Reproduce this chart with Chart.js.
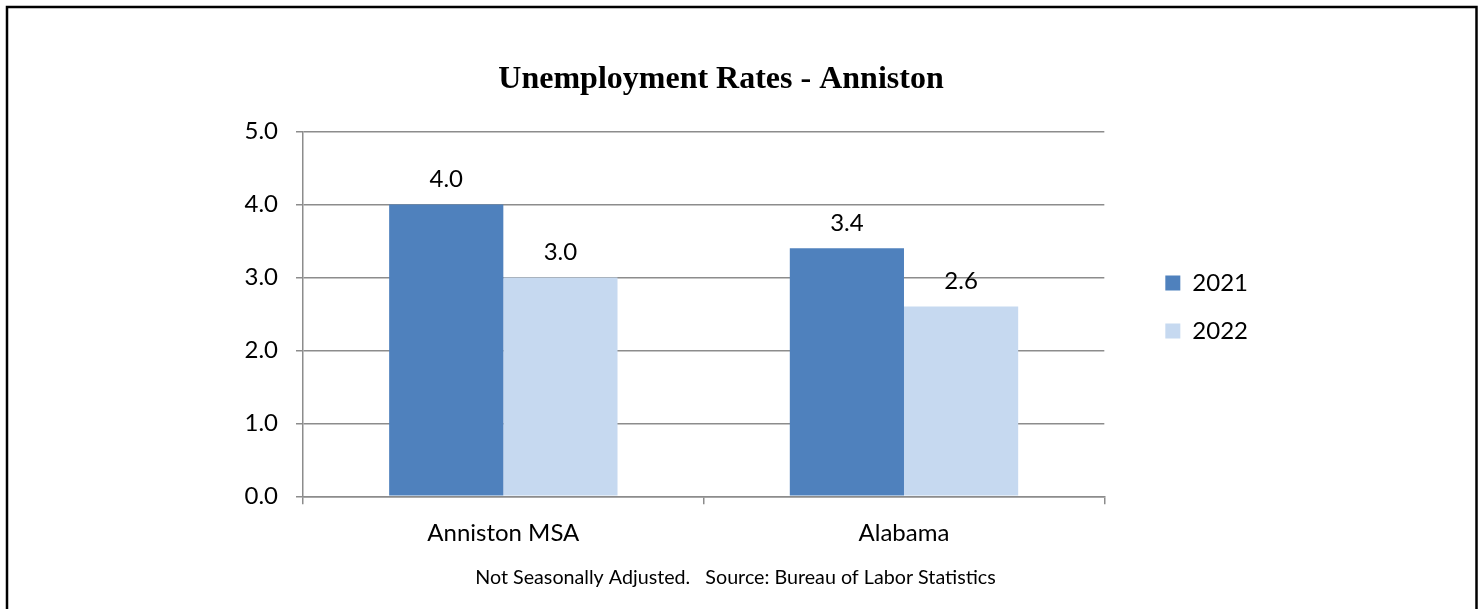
<!DOCTYPE html>
<html>
<head>
<meta charset="utf-8">
<script src="https://cdn.jsdelivr.net/npm/chart.js@4"></script>
<style>
  body { margin: 0; background: #fff; }
  canvas { display: block; }
</style>
</head>
<body>
<canvas id="myChart" width="1481" height="609"></canvas>
<script>
// datos
const areas = ['Anniston MSA', 'Alabama'];
const years = ['2021', '2022'];
const rates2021 = [4.0, 3.4];
const rates2022 = [3.0, 2.6];
const yTicks = [0, 1, 2, 3, 4, 5];
const footnote = 'Not Seasonally Adjusted.   Source: Bureau of Labor Statistics';

const gridGray = '#8c8c8c';
const axisFont = { family: 'Lato', size: 24 };

// marco negro alrededor (abierto por abajo)
const frame = {
    id: 'frame',
    beforeDraw(chart) {
        const c = chart.ctx;
        c.save();
        c.fillStyle = '#fff';
        c.fillRect(0, 0, chart.width, chart.height);
        c.strokeStyle = '#000';
        c.lineWidth = 2.5;
        c.beginPath();
        c.moveTo(7, chart.height + 5);
        c.lineTo(7, 7);
        c.lineTo(1476.5, 7);
        c.lineTo(1476.5, chart.height + 5);
        c.stroke();
        c.restore();
    }
};

// etiquetas de valor encima de cada barra
const valueLabels = {
    id: 'valueLabels',
    afterDatasetsDraw(chart) {
        const c = chart.ctx;
        c.save();
        c.font = '24px Lato';
        c.fillStyle = '#000';
        c.textAlign = 'center';
        c.textBaseline = 'middle';
        chart.data.datasets.forEach((ds, i) => {
            chart.getDatasetMeta(i).data.forEach((bar, j) => {
                c.fillText(ds.data[j].toFixed(1), bar.x, bar.y - 25);
            });
        });
        c.restore();
    }
};

// pequeño ajuste de posición de leyenda, título y nota al pie
const nudge = {
    id: 'nudge',
    afterLayout(chart) {
        const lg = chart.legend;
        lg.left += 37; lg.right += 37;
        lg.top -= 1.5; lg.bottom -= 1.5;
        const t = chart.titleBlock;
        t.left += 0.5; t.right += 0.5;
        chart.boxes.forEach(b => {
            if (b !== t && b.options && b.options.text === footnote) {
                b.left += 15; b.right += 15;
            }
        });
    }
};

const data = {
    labels: areas,
    datasets: [{
        label: years[0],
        data: rates2021,
        backgroundColor: '#4f81bd',
        borderWidth: 0,
        categoryPercentage: 0.57,
        barPercentage: 1.0
    }, {
        label: years[1],
        data: rates2022,
        backgroundColor: '#c6d9f0',
        borderWidth: 0,
        categoryPercentage: 0.57,
        barPercentage: 1.0
    }]
};

const options = {
    responsive: false,
    animation: false,
    devicePixelRatio: 1,
    layout: { padding: { left: 220, right: 260, top: 8, bottom: 0 } },
    scales: {
        x: {
            grid: { display: true, drawOnChartArea: false, offset: true, color: gridGray, lineWidth: 1.5, tickLength: 8 },
            border: { display: true, color: gridGray, width: 1.5 },
            ticks: { color: '#000', font: axisFont, padding: 15 },
            afterFit(scale) { scale.height = 60; }
        },
        y: {
            min: yTicks[0],
            max: yTicks[yTicks.length - 1],
            afterBuildTicks(scale) { scale.ticks = yTicks.map(v => ({ value: v })); },
            grid: { color: gridGray, lineWidth: 1.5, tickLength: 7 },
            border: { display: true, color: gridGray, width: 1.5 },
            ticks: { color: '#000', font: axisFont, padding: 18, callback: v => v.toFixed(1) },
            afterFit(scale) { scale.width = 83; }
        }
    },
    plugins: {
        title: {
            display: true,
            text: 'Unemployment Rates - Anniston',
            color: '#000',
            font: { family: 'Liberation Serif', size: 32, weight: 'bold' },
            padding: { top: 53, bottom: 32.1 }
        },
        subtitle: {
            display: true,
            position: 'bottom',
            text: footnote,
            color: '#000',
            font: { family: 'Lato', size: 19.7 },
            padding: { top: 9.2, bottom: 19.9 }
        },
        legend: {
            position: 'right',
            labels: { color: '#000', font: axisFont, boxWidth: 15, boxHeight: 15, padding: 24 }
        },
        tooltip: { enabled: false }
    }
};

const config = {
    type: 'bar',
    data,
    options,
    plugins: [frame, valueLabels, nudge]
};

const myChart = new Chart(document.getElementById('myChart').getContext('2d'), config);
</script>
</body>
</html>
